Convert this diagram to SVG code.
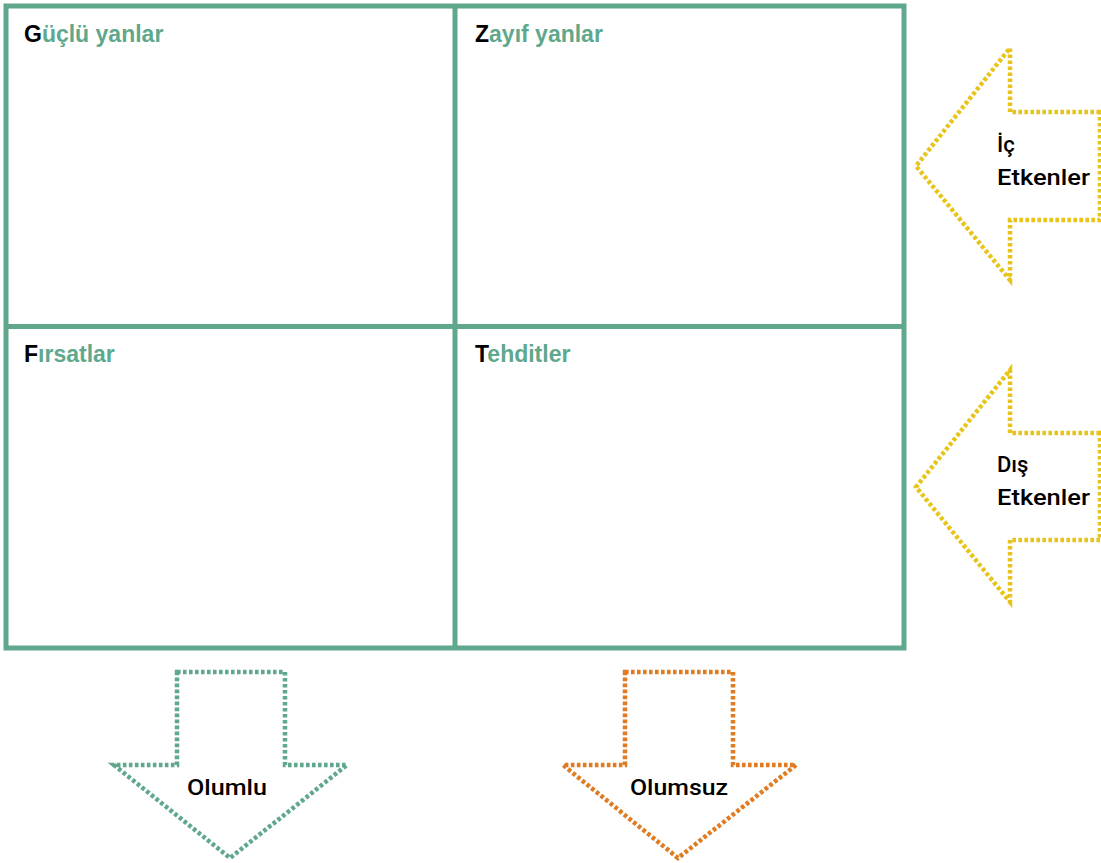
<svg xmlns="http://www.w3.org/2000/svg" width="1101" height="863" viewBox="0 0 1101 863">
  <style>
    .grid { fill: none; stroke: #5fa88c; stroke-width: 5; }
    .title { font-family: "Liberation Sans", Arial, sans-serif; font-weight: bold; font-size: 23px; fill: #5fa88c; }
    .initial { fill: #000000; }
    .label { font-family: Roboto, "Liberation Sans", Arial, sans-serif; font-weight: 500; font-size: 22px; fill: #000000; }
    .arrow { fill: none; stroke-width: 4.5; stroke-dasharray: 3.6 2.4; }
    .yellow { stroke: #e8c41a; }
    .green { stroke: #5fa88c; }
    .orange { stroke: #e07b22; }
  </style>
  <rect width="1101" height="863" fill="#ffffff"/>

  <!-- SWOT grid -->
  <g id="grid">
    <rect class="grid" x="6" y="6" width="898" height="642"/>
    <line class="grid" x1="455" y1="6" x2="455" y2="648"/>
    <line class="grid" x1="6" y1="326.5" x2="904" y2="326.5"/>
  </g>

  <g id="strengths">
    <text class="title" x="24" y="42"><tspan class="initial">G</tspan>üçlü yanlar</text>
  </g>
  <g id="weaknesses">
    <text class="title" x="475" y="42"><tspan class="initial">Z</tspan>ayıf yanlar</text>
  </g>
  <g id="opportunities">
    <text class="title" x="24" y="362"><tspan class="initial">F</tspan>ırsatlar</text>
  </g>
  <g id="threats">
    <text class="title" x="475" y="362"><tspan class="initial">T</tspan>ehditler</text>
  </g>

  <!-- Side and bottom arrows -->
  <g id="internal">
    <polygon class="arrow yellow" points="1100,112 1010,112 1010,48 916,166 1010,280 1010,220 1100,220"/>
    <text class="label" x="997" y="152">İç</text>
    <text class="label" x="997" y="185" textLength="93" lengthAdjust="spacingAndGlyphs">Etkenler</text>
  </g>
  <g id="external">
    <polygon class="arrow yellow" points="1100,433 1010,433 1010,370 916,487 1010,602 1010,540 1100,540"/>
    <text class="label" x="997" y="472">Dış</text>
    <text class="label" x="997" y="505" textLength="93" lengthAdjust="spacingAndGlyphs">Etkenler</text>
  </g>
  <g id="positive">
    <polygon class="arrow green" points="177,672 285,672 285,765 347,765 230,858 114,765 177,765"/>
    <text class="label" x="187" y="795" font-size="24" textLength="80" lengthAdjust="spacingAndGlyphs">Olumlu</text>
  </g>
  <g id="negative">
    <polygon class="arrow orange" points="625,672 733,672 733,765 796,765 678,858 563,765 625,765"/>
    <text class="label" x="630" y="795" font-size="24" textLength="98" lengthAdjust="spacingAndGlyphs">Olumsuz</text>
  </g>
</svg>
